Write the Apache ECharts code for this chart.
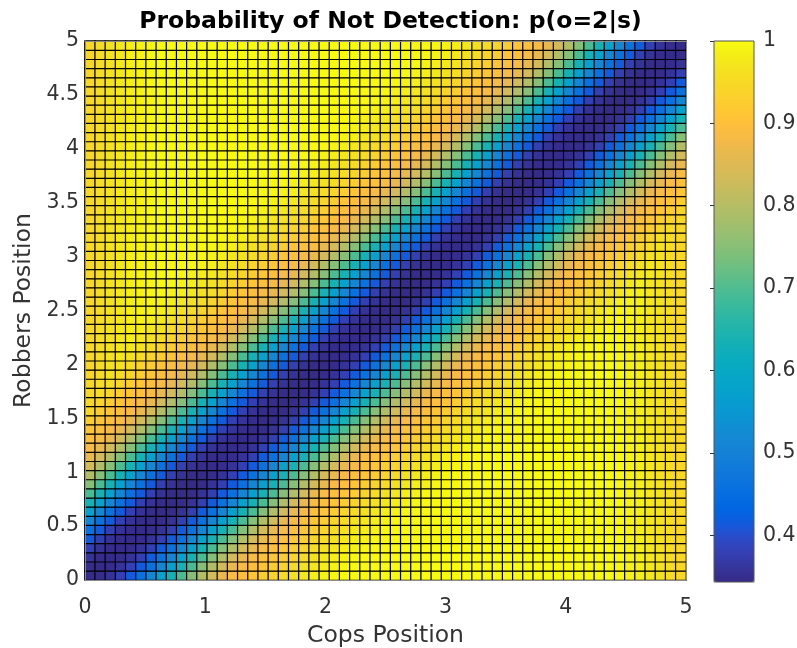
<!DOCTYPE html>
<html>
<head>
<meta charset="utf-8">
<script src="https://cdn.jsdelivr.net/npm/echarts@6/dist/echarts.min.js"></script>
<style>
  html, body { margin: 0; padding: 0; background: #fff; }
  #chart { width: 797px; height: 648px; }
</style>
</head>
<body>
<div id="chart"></div>
<script>
// ---------------- DATA ----------------
const titleText = 'Probability of Not Detection: p(o=2|s)';
const xName = 'Cops Position';
const yName = 'Robbers Position';
const cellCount = 59;               // cells per axis (grid 0..5)
// value by diagonal offset |cop cell - robber cell| (k = 0..58)
const offsetValues = [
  0.345, 0.347, 0.358, 0.380, 0.415, 0.460, 0.515, 0.575, 0.635, 0.695,
  0.748, 0.795, 0.835, 0.865, 0.885, 0.900, 0.910, 0.925, 0.940, 0.955,
  0.965, 0.975, 0.985, 0.990, 0.995, 0.997, 0.998, 0.999, 1.000, 1.000,
  1.000, 1.000, 1.000, 1.000, 1.000, 1.000, 1.000, 1.000, 1.000, 1.000,
  1.000, 1.000, 1.000, 1.000, 1.000, 1.000, 1.000, 1.000, 1.000, 1.000,
  1.000, 1.000, 1.000, 1.000, 1.000, 1.000, 1.000, 1.000, 1.000
];
// highest value reached in each cop column (edge columns are capped lower)
const columnCeiling = [
  0.945, 0.955, 0.965, 0.975, 0.985, 0.990, 0.995, 1, 1, 1,
  1, 1, 1, 1, 1, 1, 1, 1, 1, 1,
  1, 1, 1, 1, 1, 1, 1, 1, 1, 1,
  1, 1, 1, 1, 1, 1, 1, 1, 1, 1,
  1, 1, 1, 1, 1, 1, 1, 1, 1, 1,
  1, 1, 0.995, 0.990, 0.985, 0.975, 0.965, 0.955, 0.945
];
const xTicks = [0, 1, 2, 3, 4, 5];
const yTicks = [0, 0.5, 1, 1.5, 2, 2.5, 3, 3.5, 4, 4.5, 5];
const colorbarTicks = [0.4, 0.5, 0.6, 0.7, 0.8, 0.9, 1];
const valueMin = 0.3432, valueMax = 1.0;

// MATLAB parula (64)
const parula = ['#352a87','#363093','#3637a0','#353dad','#3243ba','#2c4ac7','#2053d4','#0f5cdd',
'#0363e1','#0268e1','#046de0','#0871de','#0d75dc','#1079da','#127dd8','#1481d6',
'#1485d4','#1389d3','#108ed2','#0c93d2','#0998d1','#079ccf','#06a0cd','#06a4ca',
'#06a7c6','#07a9c2','#0aacbe','#0faeb9','#15b1b4','#1db3af','#25b5a9','#2eb7a4',
'#38b99e','#42bb98','#4dbc92','#59bd8c','#65be86','#71bf80','#7cbf7b','#87bf77',
'#92bf73','#9cbf6f','#a5be6b','#aebe67','#b7bd64','#c0bc60','#c8bc5d','#d1bb59',
'#d9ba56','#e1b952','#e9b94e','#f1b94a','#f8bb44','#fdbe3d','#ffc337','#fec832',
'#fcce2e','#fad32a','#f7d826','#f5de21','#f5e41d','#f5eb18','#f6f313','#f9fb0e'];

// ---------------- BUILD ----------------
const cats = [];
for (let i = 0; i < cellCount; i++) cats.push(String(i));
const cells = [];
for (let i = 0; i < cellCount; i++) {
  for (let j = 0; j < cellCount; j++) {
    const v = Math.min(offsetValues[Math.abs(i - j)], columnCeiling[i]);
    cells.push([i, j, v]);
  }
}

const FONT = 'DejaVu Sans';
const TXT = '#333333';
const AX = '#8a8a8a';
const labelFmt = v => (Math.abs(v - Math.round(v)) < 1e-9 ? String(Math.round(v)) : v.toFixed(1));

const chart = echarts.init(document.getElementById('chart'), null, { renderer: 'canvas' });
chart.setOption({
  animation: false,
  backgroundColor: '#ffffff',
  title: {
    text: titleText,
    left: 385.5, top: 5, textAlign: 'center',
    textStyle: { fontFamily: FONT, fontSize: 23.5, fontWeight: 'bold', color: '#000' }
  },
  grid: [
    { left: 85, top: 41, width: 601, height: 539, containLabel: false, outerBoundsMode: 'none' },
    { left: 714, top: 41, width: 40, height: 541, containLabel: false, outerBoundsMode: 'none',
      show: true, borderColor: '#555', borderWidth: 1, backgroundColor: 'transparent', z: 10 }
  ],
  xAxis: [
    { type: 'category', gridIndex: 0, data: cats, show: false },
    { type: 'value', gridIndex: 0, min: 0, max: 5, interval: 1, position: 'bottom', z: 10,
      axisLine: { show: true, lineStyle: { color: AX, width: 1 } },
      axisTick: { show: false },
      axisLabel: { margin: 17, fontFamily: FONT, fontSize: 20.5, color: TXT, formatter: labelFmt },
      splitLine: { show: false },
      name: xName, nameLocation: 'middle', nameGap: 44,
      nameTextStyle: { fontFamily: FONT, fontSize: 23.5, color: TXT } },
    { type: 'value', gridIndex: 0, min: 0, max: 5, interval: 1, position: 'top', z: 10,
      axisLine: { show: true, lineStyle: { color: AX, width: 1 } },
      axisTick: { show: false },
      axisLabel: { show: false }, splitLine: { show: false } },
    { type: 'value', gridIndex: 1, min: 0, max: 1, show: false }
  ],
  yAxis: [
    { type: 'category', gridIndex: 0, data: cats, show: false },
    { type: 'value', gridIndex: 0, min: 0, max: 5, interval: 0.5, position: 'left', z: 10,
      axisLine: { show: true, lineStyle: { color: AX, width: 1 } },
      axisTick: { show: false },
      axisLabel: { margin: 6, fontFamily: FONT, fontSize: 20.5, color: TXT, formatter: labelFmt },
      splitLine: { show: false },
      name: yName, nameLocation: 'middle', nameGap: 44, nameRotate: 90,
      nameTextStyle: { fontFamily: FONT, fontSize: 23.5, color: TXT } },
    { type: 'value', gridIndex: 0, min: 0, max: 5, interval: 0.5, position: 'right', z: 10,
      axisLine: { show: true, lineStyle: { color: AX, width: 1 } },
      axisTick: { show: false },
      axisLabel: { show: false }, splitLine: { show: false } },
    { type: 'value', gridIndex: 1, min: valueMin, max: valueMax, position: 'right', z: 10,
      axisLine: { show: false },
      axisTick: { show: true, inside: true, length: 4, customValues: colorbarTicks,
                  lineStyle: { color: '#333' } },
      axisLabel: { show: true, customValues: colorbarTicks, margin: 9, fontFamily: FONT,
                   fontSize: 20.5, color: TXT, formatter: labelFmt },
      splitLine: { show: false } }
  ],
  visualMap: {
    type: 'continuous', min: valueMin, max: valueMax, dimension: 2, seriesIndex: 0,
    calculable: false, hoverLink: false, orient: 'vertical',
    left: 714, top: 41, itemWidth: 40, itemHeight: 541, padding: 0,
    inRange: { color: parula }
  },
  series: [{
    type: 'heatmap', xAxisIndex: 0, yAxisIndex: 0, data: cells,
    progressive: 0,
    itemStyle: { borderColor: '#000', borderWidth: 1.2 },
    emphasis: { disabled: true }
  }]
});
</script>
</body>
</html>
